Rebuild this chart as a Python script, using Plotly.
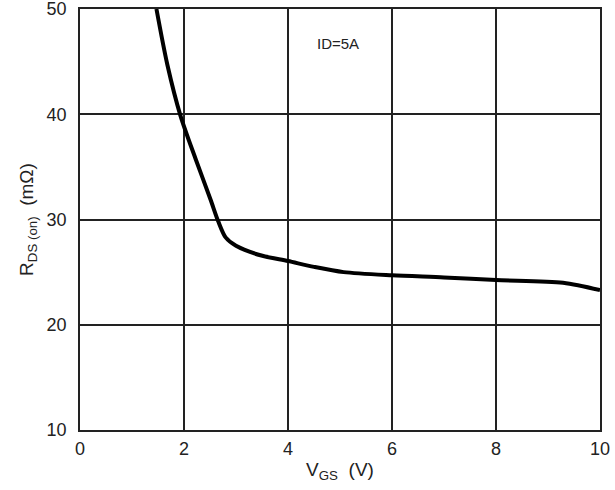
import plotly.graph_objects as go

vgs = [1.47, 1.68, 1.93, 2.22, 2.51, 2.66, 2.80, 3.0, 3.47, 4.0, 4.5, 5.07, 6.0, 7.0, 8.0, 9.29, 10.0]
rds = [50.0, 44.7, 39.9, 35.8, 31.9, 29.8, 28.3, 27.5, 26.6, 26.05, 25.5, 25.0, 24.7, 24.5, 24.25, 24.0, 23.3]

x_ticks = [0, 2, 4, 6, 8, 10]
y_ticks = [10, 20, 30, 40, 50]

fig = go.Figure()
fig.add_trace(go.Scatter(x=vgs, y=rds, mode="lines",
                         line=dict(color="black", width=4, shape="spline", smoothing=0.8),
                         showlegend=False, hoverinfo="skip"))

fig.add_annotation(x=4.97, y=46.7, text="ID=5A", showarrow=False,
                   font=dict(size=15, color="#222", family="Liberation Sans, Arial"))

fig.update_layout(
    width=615, height=490,
    margin=dict(l=80, r=15, t=9, b=60),
    paper_bgcolor="white", plot_bgcolor="white",
    font=dict(family="Liberation Sans, Arial", size=18, color="#222"),
    xaxis=dict(range=[0, 10], tickvals=x_ticks, showgrid=True, gridcolor="#222", gridwidth=1.5,
               showline=True, linecolor="#222", linewidth=1.5, mirror=True, zeroline=False,
               ticks="outside", ticklen=2, tickcolor="rgba(0,0,0,0)", automargin=False,
               ticklabeloverflow="allow",
               title=dict(text="V<sub>GS</sub>  (V)", font=dict(size=19), standoff=4)),
    yaxis=dict(range=[10, 50], tickvals=y_ticks, showgrid=True, gridcolor="#222", gridwidth=1.5,
               showline=True, linecolor="#222", linewidth=1.5, mirror=True, zeroline=False,
               ticks="outside", ticklen=8, tickcolor="rgba(0,0,0,0)", automargin=False,
               ticklabeloverflow="allow",
               title=dict(text="R<sub>DS (on)</sub>  (mΩ)", font=dict(size=19), standoff=8)),
)

fig.write_html("out.html")
